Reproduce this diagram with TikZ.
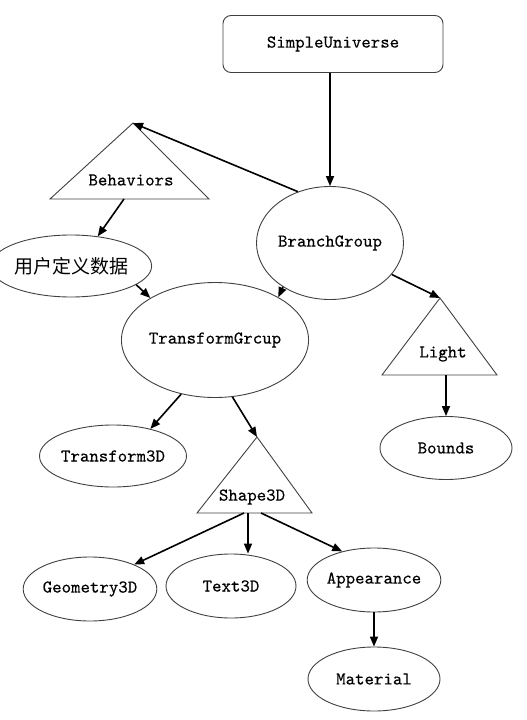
\documentclass[tikz,border=0pt]{standalone}
\usepackage{fontspec}
\newfontfamily\cjk{Noto Sans CJK SC}
\newfontfamily\diagtt{lmmono10-regular.otf}[FakeBold=0.3]
\usepackage{tikz}
\usetikzlibrary{shapes.geometric}
\usetikzlibrary{arrows.meta}

\begin{document}
\begin{tikzpicture}[x=1pt, y=-1pt,
    font=\diagtt\fontsize{18}{20}\selectfont,
    box/.style={draw=black!75, line width=0.9pt, rounded corners=8pt,
      minimum width=220pt, minimum height=57pt, inner sep=0pt},
    elli/.style={draw=black!75, line width=0.9pt, ellipse, inner sep=0pt,
      minimum width=132pt, minimum height=64pt},
    tri/.style={draw=black!75, line width=0.9pt},
    arr/.style={-{Triangle[length=10pt,width=8pt]}, line width=1.6pt}]
      \useasboundingbox (0,0) rectangle (527,720);

      \draw (333,44) node[box] (SU) {SimpleUniverse};
      \draw (330,243) node[elli, minimum height=113pt] (BG) {BranchGroup};

      \draw[tri] (50,199) -- (133,123) coordinate (BehTop) -- (209,199) -- cycle;
      \draw (131,180) node (Beh) {Behaviors};
      \coordinate (BehB) at (124,199);

      \draw (71,266) node[elli, font=\cjk\fontsize{19}{21}\selectfont,
        minimum height=62pt] (UD) {用户定义数据};
      \draw (215,340) node[elli, minimum width=144pt, minimum height=115pt] (TG) {TransformGrcup};

      \draw[tri] (382,375) -- (440,298) coordinate (LiTop) -- (497,375) -- cycle;
      \draw (443,354) node (Li) {Light};
      \coordinate (LiB) at (446,375);
      \draw (446,448) node[elli, minimum height=63pt] (Bd) {Bounds};

      \draw (113,456) node[elli, minimum width=133pt, minimum height=62pt] (T3D) {Transform3D};

      \draw[tri] (197,513) -- (257,437) coordinate (ShTop) -- (312,513) -- cycle;
      \draw (252,497) node (Sh) {Shape3D};
      \coordinate (ShB1) at (244,513);
      \coordinate (ShB2) at (248,513);
      \coordinate (ShB3) at (261,513);

      \draw (90,589) node[elli, minimum width=129pt] (Geo) {Geometry3D};
      \draw (231,586) node[elli, minimum width=130pt] (Txt) {Text3D};
      \draw (374,580) node[elli] (App) {Appearance};
      \draw (374,679) node[elli] (Mat) {Material};

      \draw[arr] (BG.north |- SU.south) -- (BG.north);
      \draw[arr] (BG.122) -- (BehTop);
      \draw[arr] (BehB) -- (UD.48);
      \draw[arr] (UD.-16) -- (TG.147);
      \draw[arr] (BG.-137) -- (TG.34);
      \draw[arr] (BG.-27) -- (LiTop);
      \draw[arr] (LiB) -- (Bd.north);
      \draw[arr] (TG.-122) -- (T3D.36);
      \draw[arr] (TG.-73) -- (ShTop);
      \draw[arr] (ShB1) -- (Geo.29);
      \draw[arr] (ShB2) -- (ShB2 |- Txt.north);
      \draw[arr] (ShB3) -- (App.138);
      \draw[arr] (App.south) -- (Mat.north);

    \end{tikzpicture}
\end{document}
